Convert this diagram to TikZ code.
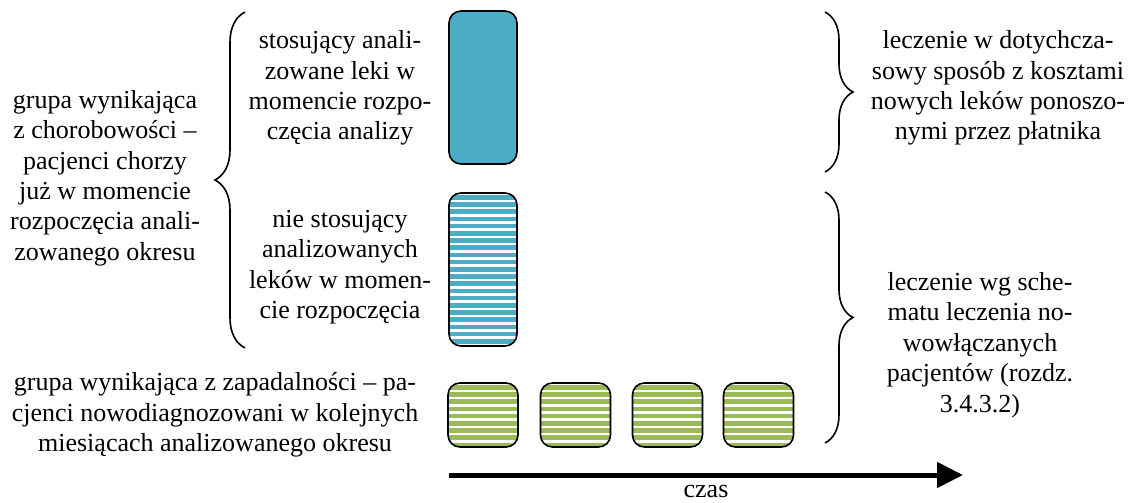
\documentclass[tikz,border=0pt]{standalone}
\usepackage{fontspec}
\setmainfont{Liberation Serif}
\newfontfamily\tnr{Liberation Serif}
\usetikzlibrary{decorations.pathreplacing,arrows.meta}
\definecolor{aqua}{HTML}{4BACC6}
\definecolor{olivegreen}{HTML}{9BBB59}
\begin{document}
\begin{tikzpicture}[x=1pt,y=-1pt,
 txt/.style={align=center,font=\tnr\fontsize{26}{30.4}\selectfont,inner sep=0pt},
 tilebox/.style={draw=black,line width=1.6pt,rounded corners=12pt,inner sep=0pt},
 solidbox/.style={tilebox,fill=aqua},
 stripedbox/.style={tilebox,path picture={\foreach \i in {0,...,24}{\fill[#1,sharp corners] ([yshift=-2pt-\i*7.2pt]path picture bounding box.north west) rectangle ([yshift=-6.5pt-\i*7.2pt]path picture bounding box.north east);}}},
 curly/.style={decorate,decoration={brace,amplitude=#1},line width=1.6pt}
]
\useasboundingbox (0,0) rectangle (1144,503);

% boxes
\node[solidbox,minimum width=68pt,minimum height=153pt] (b1) at (483,87.5) {};
\node[stripedbox=aqua,minimum width=68pt,minimum height=153pt] (b2) at (483,269.5) {};
\node[stripedbox=olivegreen,minimum width=70pt,minimum height=64pt] (g1) at (483,415) {};
\node[stripedbox=olivegreen,minimum width=70pt,minimum height=64pt] (g2) at (575.5,415) {};
\node[stripedbox=olivegreen,minimum width=70pt,minimum height=64pt] (g3) at (667.5,415) {};
\node[stripedbox=olivegreen,minimum width=70pt,minimum height=64pt] (g4) at (758.5,415) {};

% braces
\coordinate (lb1) at (245,348);
\coordinate (lb2) at (245,12);
\draw[curly=30pt] (lb1) -- (lb2);
\coordinate (ra1) at (825,12);
\coordinate (ra2) at (825,172);
\draw[curly=28pt] (ra1) -- (ra2);
\coordinate (rb1) at (825,192);
\coordinate (rb2) at (825,443);
\draw[curly=28pt] (rb1) -- (rb2);

% texts
\node[txt] (lefta) at (105,178) {grupa wynikająca\\z chorobowości –\\pacjenci chorzy\\już w momencie\\rozpoczęcia anali-\\zowanego okresu};
\node[txt] (leftb) at (340,88) {stosujący anali-\\zowane leki w\\momencie rozpo-\\częcia analizy};
\node[txt] (leftc) at (340,267) {nie stosujący\\analizowanych\\leków w momen-\\cie rozpoczęcia};
\node[txt] (righta) at (998,88) {leczenie w dotychcza-\\sowy sposób z kosztami\\nowych leków ponoszo-\\nymi przez płatnika};
\node[txt] (rightb) at (980,345) {leczenie wg sche-\\matu leczenia no-\\wowłączanych\\pacjentów (rozdz.\\3.4.3.2)};
\node[txt] (bottoml) at (215,415) {grupa wynikająca z zapadalności – pa-\\cjenci nowodiagnozowani w kolejnych\\miesiącach analizowanego okresu};

% time arrow
\coordinate (t0) at (449,475);
\coordinate (t1) at (963,475);
\draw[line width=5pt,-{Triangle[length=26pt,width=25pt]}] (t0) -- (t1);
\node[txt] (czas) at (706,491) {czas};
\end{tikzpicture}
\end{document}
